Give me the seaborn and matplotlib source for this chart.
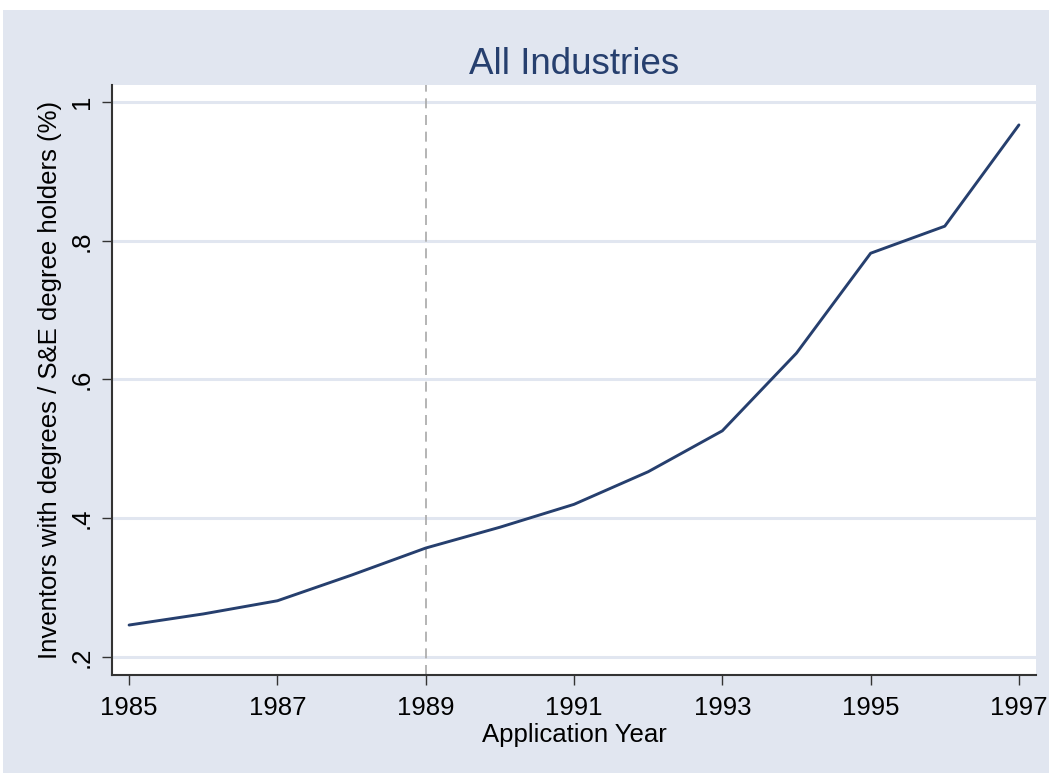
import pandas as pd
import matplotlib.pyplot as plt
import matplotlib.patches as mpatches
import seaborn as sns

years = [1985, 1986, 1987, 1988, 1989, 1990, 1991, 1992, 1993, 1994, 1995, 1996, 1997]
share = [0.246, 0.262, 0.281, 0.318, 0.357, 0.387, 0.420, 0.467, 0.526, 0.638, 0.782, 0.821, 0.967]
x_ticks = [1985, 1987, 1989, 1991, 1993, 1995, 1997]
y_ticks = [0.2, 0.4, 0.6, 0.8, 1.0]
y_labels = [".2", ".4", ".6", ".8", "1"]

df = pd.DataFrame({"year": years, "share": share})

bg = "#E1E6F0"
navy = "#263F6E"

sns.set_style("white")
plt.rcParams["font.family"] = ["Liberation Sans", "DejaVu Sans"]
plt.rcParams["text.color"] = "black"
plt.rcParams["axes.labelcolor"] = "black"
plt.rcParams["xtick.color"] = "black"
plt.rcParams["ytick.color"] = "black"

fig = plt.figure(figsize=(10.49, 7.73), dpi=100, facecolor="white")
fig.patches.append(mpatches.Rectangle((0.003, 0), 0.997, 0.987, transform=fig.transFigure,
                                      facecolor=bg, edgecolor="none", zorder=-1))
ax = fig.add_axes([0.1068, 0.1268, 0.8808, 0.7632])
ax.set_facecolor("white")

for yv in y_ticks:
    ax.axhline(yv, color=bg, lw=2.2, zorder=0)
ax.axvline(1989, color="#A8A8A8", lw=1.2, ls=(0, (6, 4)), zorder=1)

sns.lineplot(data=df, x="year", y="share", color=navy, lw=2.1, ax=ax, zorder=3)

ax.set_xlim(1984.77, 1997.23)
ax.set_ylim(0.174, 1.0245)
ax.set_xticks(x_ticks)
ax.set_xticklabels([str(t) for t in x_ticks], fontsize=18.5)
ax.set_yticks(y_ticks)
ax.set_yticklabels(y_labels, fontsize=18.5, rotation=90, va="center")
ax.tick_params(axis="x", direction="out", length=7, width=1, color="#333333", pad=8, bottom=True)
ax.tick_params(axis="y", direction="out", length=7, width=1, color="#333333", pad=6, left=True)

for s in ["top", "right"]:
    ax.spines[s].set_visible(False)
for s in ["left", "bottom"]:
    ax.spines[s].set_color("#333333")
    ax.spines[s].set_linewidth(1.5)

ax.set_xlabel("Application Year", fontsize=18.5, labelpad=2)
ax.set_ylabel("Inventors with degrees / S&E degree holders (%)", fontsize=18.5, labelpad=6)
ax.set_title("All Industries", fontsize=26.5, color=navy, pad=8)

fig.savefig("out.png", dpi=100, facecolor=fig.get_facecolor())
